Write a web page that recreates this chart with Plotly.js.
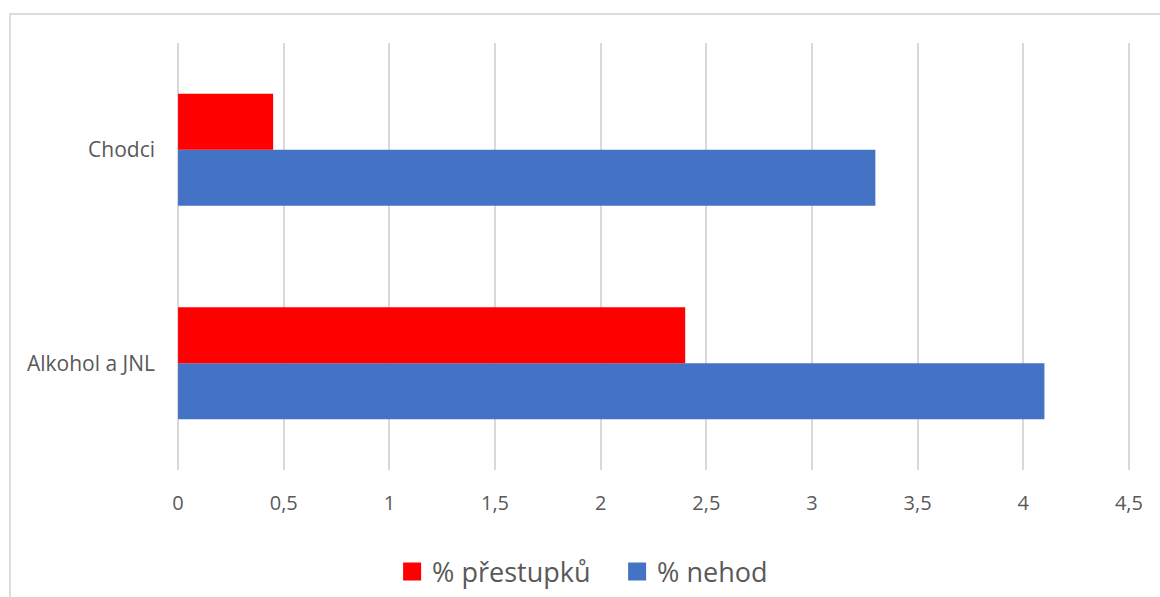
<!DOCTYPE html>
<html>
<head>
<meta charset="utf-8">
<script src="https://cdn.plot.ly/plotly-3.0.1.min.js"></script>
<style>
  html, body { margin: 0; padding: 0; background: #ffffff; overflow: hidden; }
  #wrap { position: relative; width: 1160px; height: 597px; overflow: hidden; }
  #frame { position: absolute; left: 9px; top: 13px; width: 1200px; height: 700px;
           border: 2px solid #dcdcdc; box-sizing: border-box; pointer-events: none; }
  #chart { position: absolute; left: 0; top: 0; width: 1160px; height: 597px; }
</style>
</head>
<body>
<div id="wrap">
  <div id="frame"></div>
  <div id="chart"></div>
</div>
<script>
// Categories, bottom to top
const categories = ['Alkohol a JNL', 'Chodci'];
// Share of offences
const prestupky = [2.4, 0.45];
// Share of accidents
const nehody = [4.1, 3.3];

const xTicks = [0, 0.5, 1, 1.5, 2, 2.5, 3, 3.5, 4, 4.5];

const font = { family: '"Open Sans", "Noto Sans", sans-serif', color: '#595959' };

const traces = [
  {
    type: 'bar', orientation: 'h', name: '% nehod',
    x: nehody, y: categories,
    marker: { color: '#4472C4' }, legendrank: 2
  },
  {
    type: 'bar', orientation: 'h', name: '% přestupků',
    x: prestupky, y: categories,
    marker: { color: '#FF0000' }, legendrank: 1
  }
];

const layout = {
  width: 1160, height: 597,
  margin: { l: 177, r: 30, t: 43, b: 127 },
  paper_bgcolor: 'rgba(0,0,0,0)',
  plot_bgcolor: 'rgba(0,0,0,0)',
  font: Object.assign({ size: 21 }, font),
  separators: ',.',
  barmode: 'group',
  bargap: 0.475,
  bargroupgap: 0,
  xaxis: {
    // small padding keeps the gridlines at 0 and 4,5 visible
    range: [-0.005, 4.505], tickvals: xTicks,
    showgrid: true, gridcolor: '#d9d9d9', gridwidth: 2,
    zeroline: false, showline: false, ticks: '',
    ticklabelstandoff: 19,
    tickfont: Object.assign({ size: 20 }, font),
    fixedrange: true
  },
  yaxis: {
    showgrid: false, zeroline: false, showline: false, ticks: '',
    ticklabelstandoff: 21,
    tickfont: Object.assign({ size: 21 }, font),
    fixedrange: true
  },
  showlegend: true,
  legend: {
    orientation: 'h', xref: 'container', yref: 'container',
    x: 0.532, xanchor: 'center', y: 1 - 572 / 597, yanchor: 'middle',
    font: Object.assign({ size: 27 }, font),
    entrywidthmode: 'pixels', entrywidth: 180,
    itemclick: false, itemdoubleclick: false
  }
};

Plotly.newPlot('chart', traces, layout, { staticPlot: true, displayModeBar: false }).then(function (gd) {
  // larger legend swatches
  gd.querySelectorAll('.legend .legendpoints path').forEach(function (p) {
    p.setAttribute('d', 'M9,9H-9V-9H9Z');
  });
});
</script>
</body>
</html>
